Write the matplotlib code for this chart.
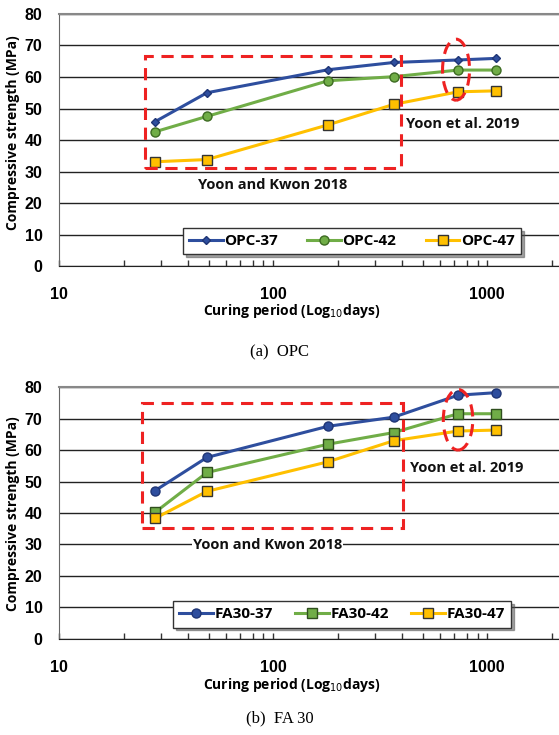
import numpy as np
import matplotlib
matplotlib.use("Agg")
import matplotlib.pyplot as plt
from matplotlib.patches import Rectangle, Ellipse
from matplotlib.ticker import FixedLocator, LogLocator, NullFormatter

# curing days
days = [28, 49, 180, 365, 730, 1095]

# (a) OPC
opc_37 = [45.8, 55.0, 62.3, 64.6, 65.4, 65.9]
opc_42 = [42.6, 47.5, 58.8, 60.1, 62.2, 62.2]
opc_47 = [33.1, 33.8, 44.8, 51.3, 55.3, 55.6]

# (b) FA 30
fa_37 = [47.1, 57.7, 67.6, 70.5, 77.5, 78.3]
fa_42 = [40.2, 52.9, 61.9, 65.6, 71.6, 71.6]
fa_47 = [38.3, 46.9, 56.3, 63.0, 66.1, 66.4]

blue = "#2E4E9E"
green = "#70AD47"
yellow = "#FFC000"

xmax = 10 ** (1 + (559 - 59.3) / 214.0)
lab_font = ["Open Sans", "DejaVu Sans"]

fig = plt.figure(figsize=(5.59, 7.35), dpi=100)


def setup_axes(ax):
    ax.set_xscale("log")
    ax.set_xlim(10, xmax)
    ax.set_ylim(0, 80)
    ax.set_yticks(range(0, 81, 10))
    ax.yaxis.grid(True, color="#222222", linewidth=1.0)
    ax.set_axisbelow(True)
    ax.xaxis.set_major_locator(FixedLocator([10, 100, 1000]))
    ax.xaxis.set_minor_locator(LogLocator(base=10, subs=np.arange(2, 10)))
    ax.xaxis.set_minor_formatter(NullFormatter())
    ax.set_xticklabels(["10", "100", "1000"])
    ax.tick_params(axis="x", which="both", direction="in", length=4, width=1,
                   color="#333333", pad=15)
    ax.tick_params(axis="y", length=0, pad=12)
    for lbl in ax.get_xticklabels() + ax.get_yticklabels():
        lbl.set_fontfamily("Liberation Sans")
        lbl.set_fontweight("bold")
        lbl.set_fontsize(11.5)
    ax.spines["right"].set_visible(False)
    ax.spines["top"].set_color("#888888")
    ax.spines["top"].set_linewidth(1.5)
    ax.spines["left"].set_color("#666666")
    ax.spines["bottom"].set_color("#222222")


def add_boxes(ax, rect, ell, kw_text, kw_pos, et_pos, bg):
    ax.add_patch(Rectangle((rect[0], rect[2]), rect[1] - rect[0], rect[3] - rect[2],
                           fill=False, edgecolor="#EE2222", linewidth=2.2,
                           linestyle=(0, (4, 2.5)), zorder=5))
    ax.add_patch(Ellipse((ell[0], ell[1]), ell[2], ell[3], transform=ax.transAxes,
                         fill=False, edgecolor="#EE2222", linewidth=2.2,
                         linestyle=(0, (4, 2.5)), zorder=5))
    t = ax.text(kw_pos[0], kw_pos[1], kw_text, transform=ax.transAxes,
                ha="center", va="center", fontsize=10.5, fontweight="bold",
                family=lab_font, color="#111111", zorder=6)
    if bg:
        t.set_bbox(dict(facecolor="white", edgecolor="none", pad=0.5))
    ax.text(et_pos[0], et_pos[1], "Yoon et al. 2019", transform=ax.transAxes,
            ha="left", va="center", fontsize=10.5, fontweight="bold",
            family=lab_font, color="#111111", zorder=6)


# ---- (a) OPC ----
ax1 = fig.add_axes([0.106, 0.638, 0.894, 0.343])
setup_axes(ax1)
ax1.plot(days, opc_37, color=blue, lw=2.2, marker="D", ms=4.5, mfc=blue,
         mec="#1F3575", label="OPC-37", zorder=4)
ax1.plot(days, opc_42, color=green, lw=2.2, marker="o", ms=6.5, mfc=green,
         mec="#3D6B22", label="OPC-42", zorder=4)
ax1.plot(days, opc_47, color=yellow, lw=2.2, marker="s", ms=6.5, mfc=yellow,
         mec="#333333", label="OPC-47", zorder=4)
add_boxes(ax1, (25.1, 396, 31.2, 66.7), (0.794, 0.779, 0.054, 0.242),
          "Yoon and Kwon 2018", (0.427, 0.321), (0.694, 0.565), False)
leg1 = ax1.legend(loc="center", ncol=3, mode="expand",
                  bbox_to_anchor=(0.2476, 0.048, 0.676, 0.103),
                  fancybox=False, shadow=True, edgecolor="#333333",
                  handlelength=2.2, borderaxespad=0, columnspacing=1.0,
                  handletextpad=0.1, prop={"family": lab_font, "weight": "bold", "size": 11})
leg1.get_frame().set_linewidth(1.0)

fig.text(0.024, 0.819, "Compressive strength (MPa)", rotation=90, ha="center",
         va="center", fontsize=10, fontweight="bold", family=lab_font)
fig.text(0.522, 0.577, "Curing period (Log$_{10}$days)", ha="center", va="center",
         fontsize=10, fontweight="bold", family=lab_font)
fig.text(0.5, 0.521, "(a)  OPC", ha="center", va="center", fontsize=12,
         family=["Liberation Serif", "DejaVu Serif"])

# ---- (b) FA 30 ----
ax2 = fig.add_axes([0.106, 0.131, 0.894, 0.342])
setup_axes(ax2)
ax2.plot(days, fa_37, color=blue, lw=2.2, marker="o", ms=6.5, mfc=blue,
         mec="#1F3575", label="FA30-37", zorder=4)
ax2.plot(days, fa_42, color=green, lw=2.2, marker="s", ms=6.5, mfc=green,
         mec="#2F4F1E", label="FA30-42", zorder=4)
ax2.plot(days, fa_47, color=yellow, lw=2.2, marker="s", ms=6.5, mfc=yellow,
         mec="#333333", label="FA30-47", zorder=4)
add_boxes(ax2, (24.3, 405, 35.2, 74.9), (0.798, 0.871, 0.059, 0.241),
          "Yoon and Kwon 2018", (0.417, 0.373), (0.702, 0.680), True)
leg2 = ax2.legend(loc="center", ncol=3, mode="expand",
                  bbox_to_anchor=(0.2275, 0.043, 0.676, 0.107),
                  fancybox=False, shadow=True, edgecolor="#333333",
                  handlelength=2.2, borderaxespad=0, columnspacing=1.0,
                  handletextpad=0.1, prop={"family": lab_font, "weight": "bold", "size": 11})
leg2.get_frame().set_linewidth(1.0)

fig.text(0.024, 0.301, "Compressive strength (MPa)", rotation=90, ha="center",
         va="center", fontsize=10, fontweight="bold", family=lab_font)
fig.text(0.522, 0.068, "Curing period (Log$_{10}$days)", ha="center", va="center",
         fontsize=10, fontweight="bold", family=lab_font)
fig.text(0.5, 0.023, "(b)  FA 30", ha="center", va="center", fontsize=12,
         family=["Liberation Serif", "DejaVu Serif"])

fig.savefig("out.png", dpi=100)
